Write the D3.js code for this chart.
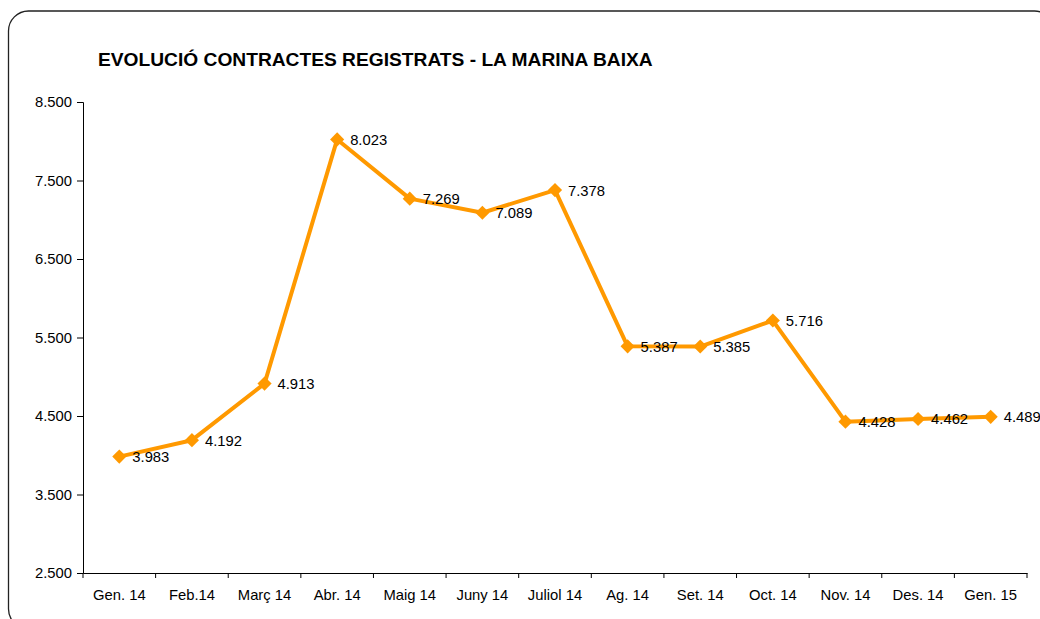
<!DOCTYPE html>
<html>
<head>
<meta charset="utf-8">
<script src="https://cdn.jsdelivr.net/npm/d3@7"></script>
<style>
  body { margin: 0; background: #fff; }
  svg { display: block; font-family: Arial, "Liberation Sans", sans-serif; }
</style>
</head>
<body>
<div id="chart"></div>
<script>
const months = ["Gen. 14", "Feb.14", "Març 14", "Abr. 14", "Maig 14", "Juny 14", "Juliol 14",
                "Ag. 14", "Set. 14", "Oct. 14", "Nov. 14", "Des. 14", "Gen. 15"];
const contracts = [3983, 4192, 4913, 8023, 7269, 7089, 7378, 5387, 5385, 5716, 4428, 4462, 4489];
const yTicks = [2500, 3500, 4500, 5500, 6500, 7500, 8500];

const width = 1040, height = 619;
const plot = { left: 83, right: 1027, top: 102, bottom: 573 };
const labelSize = 14.8;

const fmt = v => d3.format(",d")(v).replace(/,/g, ".");

const svg = d3.select("#chart").append("svg")
    .attr("width", width)
    .attr("height", height);

// rounded frame, runs off the right and bottom edge
svg.append("rect")
   .attr("x", 8.5).attr("y", 11)
   .attr("width", 1046).attr("height", 618)
   .attr("rx", 20)
   .attr("fill", "#fff")
   .attr("stroke", "#222")
   .attr("stroke-width", 1.3);

svg.append("text")
   .attr("x", 98).attr("y", 65.5)
   .attr("font-size", 19.2)
   .attr("font-weight", "bold")
   .attr("fill", "#000")
   .text("EVOLUCIÓ CONTRACTES REGISTRATS - LA MARINA BAIXA");

const x = d3.scaleBand()
            .domain(months)
            .range([plot.left, plot.right]);

const y = d3.scaleLinear()
            .domain([2500, 8500])
            .range([plot.bottom, plot.top]);

const xAxis = svg.append("g")
    .attr("transform", "translate(0," + plot.bottom + ")")
    .call(d3.axisBottom(x).tickSize(0).tickPadding(16));
xAxis.select(".domain").attr("stroke", "#000");
xAxis.selectAll("text").attr("font-size", labelSize).attr("fill", "#000").attr("font-family", null);

// tick marks between categories
svg.append("g")
   .selectAll("line")
   .data(months.concat([null]))
   .enter().append("line")
   .attr("x1", (d, i) => plot.left + i * x.step())
   .attr("x2", (d, i) => plot.left + i * x.step())
   .attr("y1", plot.bottom)
   .attr("y2", plot.bottom + 5)
   .attr("stroke", "#000");

const yAxis = svg.append("g")
    .attr("transform", "translate(" + plot.left + ",0)")
    .call(d3.axisLeft(y).tickValues(yTicks).tickFormat(fmt).tickSize(6).tickPadding(5));
yAxis.select(".domain").attr("stroke", "#000");
yAxis.selectAll("line").attr("stroke", "#000");
yAxis.selectAll("text").attr("font-size", labelSize).attr("fill", "#000").attr("font-family", null);

const cx = (d, i) => x(months[i]) + x.bandwidth() / 2;

const line = d3.line()
               .x(cx)
               .y(d => y(d));

svg.append("path")
   .datum(contracts)
   .attr("d", line)
   .attr("fill", "none")
   .attr("stroke", "#FF9900")
   .attr("stroke-width", 4)
   .attr("stroke-linejoin", "round");

svg.append("g")
   .selectAll("path")
   .data(contracts)
   .enter().append("path")
   .attr("d", d3.symbol().type(d3.symbolSquare).size(100))
   .attr("transform", (d, i) => "translate(" + cx(d, i) + "," + y(d) + ") rotate(45)")
   .attr("fill", "#FF9900");

svg.append("g")
   .selectAll("text")
   .data(contracts)
   .enter().append("text")
   .attr("x", (d, i) => cx(d, i) + 13)
   .attr("y", d => y(d) + 5.5)
   .attr("font-size", labelSize)
   .attr("fill", "#000")
   .text(fmt);
</script>
</body>
</html>
